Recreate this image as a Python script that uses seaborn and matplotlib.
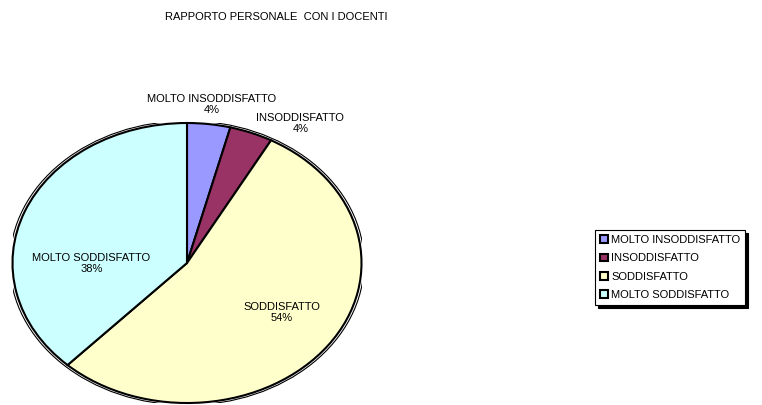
import numpy as np
import matplotlib
matplotlib.use("Agg")
import matplotlib.pyplot as plt
import seaborn as sns
from matplotlib.patches import Circle

# data
categories = ["MOLTO INSODDISFATTO", "INSODDISFATTO", "SODDISFATTO", "MOLTO SODDISFATTO"]
percent = [4, 4, 54, 38]
slice_colors = ["#9999FF", "#993366", "#FFFFCC", "#CCFFFF"]

sns.set_theme(style="white")
plt.rcParams["font.family"] = ["Liberation Sans", "DejaVu Sans"]
plt.rcParams["text.color"] = "black"

fig = plt.figure(figsize=(7.62, 4.05), dpi=100)
# axes placed so the unit pie becomes the flattened ellipse of the original
ax = fig.add_axes([12.5 / 762, 2 / 405, 349 / 762, 280 / 405])

# thin outline behind the pie (the old 3D edge look)
ax.add_patch(Circle((0, 0), 1.015, facecolor="white", edgecolor="black", lw=0.8, zorder=0))

wedges, _ = ax.pie(percent, colors=slice_colors, startangle=90, counterclock=False,
                   radius=1.0, wedgeprops=dict(edgecolor="black", linewidth=1.5))
ax.set_aspect("auto")
ax.set_xlim(-1, 1)
ax.set_ylim(-1, 1)
ax.axis("off")

# label placement, one per slice
label_dist = [1.14, 1.08, 0.67, 0.59]
label_ha = ["center", "left", "center", "center"]
label_dy = [0, -1, 4, -22]
cum = np.cumsum([0] + percent)
for i, name in enumerate(categories):
    mid = np.deg2rad(90 - (cum[i] + cum[i + 1]) / 2 / sum(percent) * 360)
    x, y = label_dist[i] * np.cos(mid), label_dist[i] * np.sin(mid)
    ax.annotate(f"{name}\n{percent[i]}%", (x, y), xytext=(0, label_dy[i]),
                textcoords="offset points", ha=label_ha[i], va="center",
                fontsize=8, linespacing=1.1, annotation_clip=False,
                multialignment="center")

fig.text(276 / 762, 1 - 17 / 405, "RAPPORTO PERSONALE  CON I DOCENTI",
         ha="center", va="center", fontsize=8)

leg = fig.legend(wedges, categories, loc="upper left",
                 bbox_to_anchor=(595 / 762, 1 - 230 / 405), borderaxespad=0,
                 fontsize=8, frameon=True, fancybox=False, edgecolor="black",
                 handlelength=0.7, handleheight=0.7, handletextpad=0.3,
                 labelspacing=0.75, borderpad=0.45,
                 shadow={"color": "black", "alpha": 1})
leg.get_frame().set_linewidth(0.8)

fig.savefig("out.png", dpi=100, facecolor="white")
